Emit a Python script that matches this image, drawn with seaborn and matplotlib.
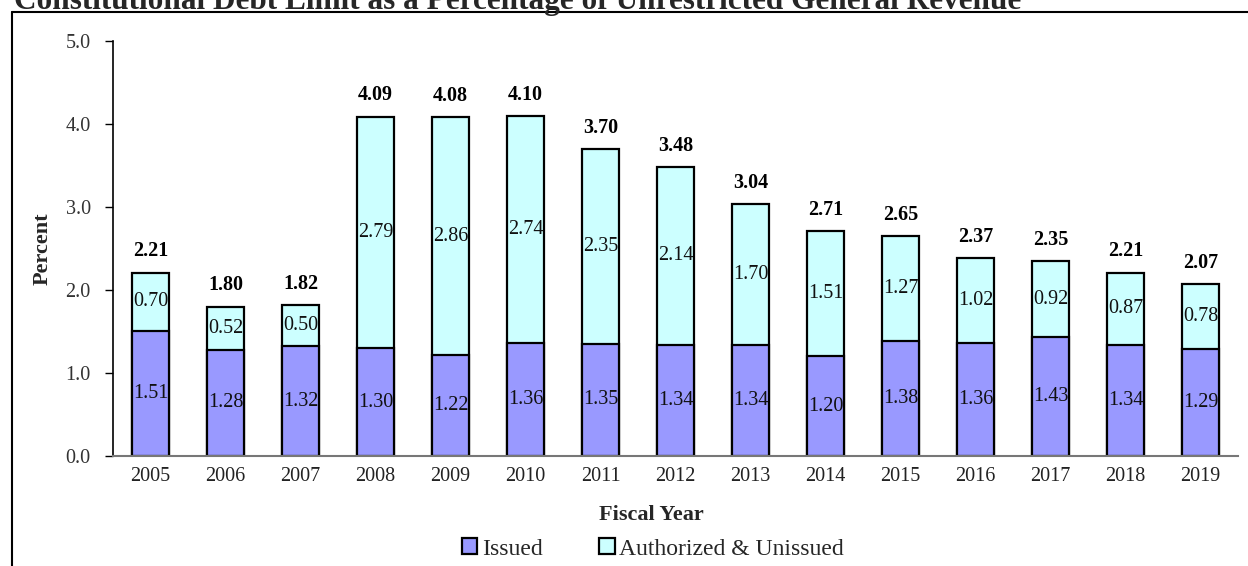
import matplotlib
matplotlib.use("Agg")
import matplotlib.pyplot as plt
from matplotlib.lines import Line2D
from matplotlib.patches import Patch
import seaborn as sns
import pandas as pd
import numpy as np

years = ["2005", "2006", "2007", "2008", "2009", "2010", "2011", "2012",
         "2013", "2014", "2015", "2016", "2017", "2018", "2019"]
issued = [1.51, 1.28, 1.32, 1.30, 1.22, 1.36, 1.35, 1.34,
          1.34, 1.20, 1.38, 1.36, 1.43, 1.34, 1.29]
authorized = [0.70, 0.52, 0.50, 2.79, 2.86, 2.74, 2.35, 2.14,
              1.70, 1.51, 1.27, 1.02, 0.92, 0.87, 0.78]
totals = [2.21, 1.80, 1.82, 4.09, 4.08, 4.10, 3.70, 3.48,
          3.04, 2.71, 2.65, 2.37, 2.35, 2.21, 2.07]

c_issued = "#9999FF"
c_auth = "#CCFFFF"

sns.set_theme(style="white")
plt.rcParams["font.family"] = ["Liberation Serif", "DejaVu Serif"]

df = pd.DataFrame({"year": years, "issued": issued, "authorized": authorized})
df["stack"] = df["issued"] + df["authorized"]

W, H = 1248, 566
fig = plt.figure(figsize=(W / 100, H / 100), dpi=100)
ax = fig.add_axes([113 / W, 1 - 456 / H, (1238 - 113) / W, (456 - 41) / H])

# stacked bars: full height first, issued part drawn over it
sns.barplot(data=df, x="year", y="stack", color=c_auth, width=0.5,
            edgecolor="black", linewidth=1.6, saturation=1, ax=ax)
sns.barplot(data=df, x="year", y="issued", color=c_issued, width=0.5,
            edgecolor="black", linewidth=1.6, saturation=1, ax=ax)

# labels
for i in range(len(years)):
    ax.text(i, issued[i] / 2, f"{issued[i]:.2f}", ha="center", va="center",
            fontsize=14.5, color="#111111")
    ax.text(i, issued[i] + authorized[i] / 2, f"{authorized[i]:.2f}",
            ha="center", va="center", fontsize=14.5, color="#111111")
    ax.annotate(f"{totals[i]:.2f}", (i, df["stack"][i]), xytext=(0, 8),
                textcoords="offset points", ha="center", va="bottom",
                fontsize=14.5, fontweight="bold", color="black")

ax.set_xlim(-0.5, len(years) - 0.5)
ax.set_ylim(0, 5)
ax.set_yticks(np.arange(0, 5.1, 1.0))
ax.set_yticklabels([f"{v:.1f}" for v in np.arange(0, 5.1, 1.0)])
ax.set_xticks(np.arange(-0.5, len(years), 1.0), minor=True)
ax.tick_params(axis="x", which="major", length=0, labelsize=14.5, pad=8,
               labelcolor="#222222")
ax.tick_params(axis="x", which="minor", length=6, width=1, color="#444444",
               direction="out")
ax.tick_params(axis="y", length=6, width=1, color="black", direction="out",
               labelsize=14.5, pad=10, labelcolor="#333333", left=True)

for s in ["top", "right"]:
    ax.spines[s].set_visible(False)
ax.spines["left"].set_color("black")
ax.spines["left"].set_linewidth(1.2)
ax.spines["bottom"].set_color("#777777")
ax.spines["bottom"].set_linewidth(1.5)

ax.set_xlabel("Fiscal Year", fontsize=16, fontweight="bold", va="center")
ax.xaxis.set_label_coords((651 - 113) / 1125, (456 - 515) / 415)
ax.set_ylabel("Percent", fontsize=16, fontweight="bold", va="center")
ax.yaxis.set_label_coords(-(113 - 43) / 1125, 0.5)

handles = [Patch(facecolor=c_issued, edgecolor="black", linewidth=1.6, label="Issued"),
           Patch(facecolor=c_auth, edgecolor="black", linewidth=1.6,
                 label="Authorized & Unissued")]
fig.legend(handles=handles, loc="center", bbox_to_anchor=(653 / W, 1 - 549 / H),
           ncol=2, frameon=False, fontsize=17, handlelength=0.65,
           handleheight=0.65, handletextpad=0.2, columnspacing=2.4)

# outer frame (left and top only visible) and clipped title
fig.add_artist(Line2D([12 / W, 12 / W], [0, 1 - 12 / H], color="black",
                      linewidth=1.5, transform=fig.transFigure))
fig.add_artist(Line2D([12 / W, 1], [1 - 12 / H, 1 - 12 / H], color="black",
                      linewidth=1.5, transform=fig.transFigure))
fig.text(14 / W, 1 - 9 / H,
         "Constitutional Debt Limit as a Percentage of Unrestricted General Revenue",
         ha="left", va="baseline", fontsize=22.5, fontweight="bold")

fig.savefig("out.png", dpi=100)
